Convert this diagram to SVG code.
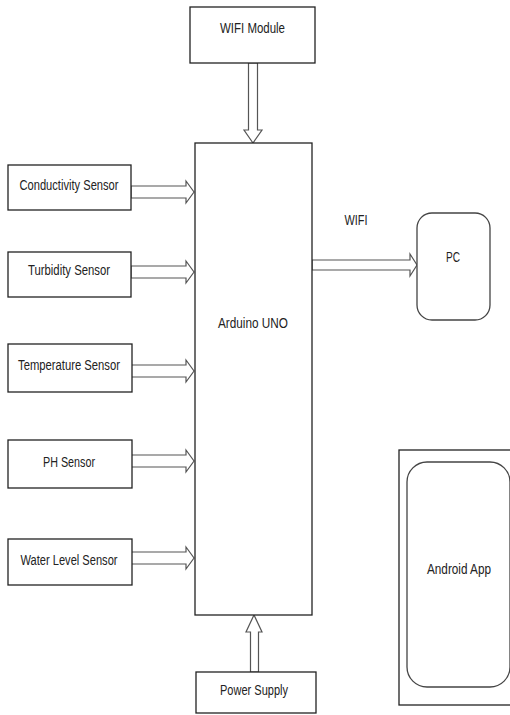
<svg xmlns="http://www.w3.org/2000/svg" width="510" height="715" viewBox="0 0 510 715">
<style>
.box{fill:#fff;stroke:#222;stroke-width:1.3}
.arrow{fill:#fff;stroke:#555;stroke-width:1.2;stroke-linejoin:miter}
.lbl{font-family:"Liberation Sans",Arial,sans-serif;font-size:14px;fill:#222;text-anchor:middle;dominant-baseline:central}
</style>
<rect width="510" height="715" fill="#fff"/>
<g id="connectors">
<polygon class="arrow" points="248.5,63 257.5,63 257.5,130 262,130 253,143 244,130 248.5,130"/>
<polygon class="arrow" points="131,186 186,186 186,181 194,192 186,203 186,198 131,198"/>
<polygon class="arrow" points="131,266 186,266 186,261 194,272 186,283 186,278 131,278"/>
<polygon class="arrow" points="131,365 186,365 186,360 194,371 186,382 186,377 131,377"/>
<polygon class="arrow" points="131,455 186,455 186,450 194,461 186,472 186,467 131,467"/>
<polygon class="arrow" points="131,552 186,552 186,547 194,558 186,569 186,564 131,564"/>
<polygon class="arrow" points="312,260 410,260 410,254 417,265 410,276 410,270 312,270"/>
<polygon class="arrow" points="250.5,672 258.5,672 258.5,632 262,632 254,615 246,632 250.5,632"/>
</g>
<g id="wifi-module">
<rect class="box" x="190" y="7" width="125" height="56"/>
<text class="lbl" x="252.5" y="28" textLength="65" lengthAdjust="spacingAndGlyphs">WIFI Module</text>
</g>
<g id="arduino">
<rect class="box" x="195" y="143" width="117" height="472"/>
<text class="lbl" x="253" y="323" textLength="70" lengthAdjust="spacingAndGlyphs">Arduino UNO</text>
</g>
<g id="conductivity">
<rect class="box" x="8" y="165" width="123" height="45"/>
<text class="lbl" x="69" y="185" textLength="99" lengthAdjust="spacingAndGlyphs">Conductivity Sensor</text>
</g>
<g id="turbidity">
<rect class="box" x="8" y="252" width="123" height="45"/>
<text class="lbl" x="69" y="270" textLength="82" lengthAdjust="spacingAndGlyphs">Turbidity Sensor</text>
</g>
<g id="temperature">
<rect class="box" x="8" y="344" width="124" height="48"/>
<text class="lbl" x="69" y="365" textLength="102" lengthAdjust="spacingAndGlyphs">Temperature Sensor</text>
</g>
<g id="ph">
<rect class="box" x="8" y="440" width="124" height="48"/>
<text class="lbl" x="69" y="462" textLength="52" lengthAdjust="spacingAndGlyphs">PH Sensor</text>
</g>
<g id="water-level">
<rect class="box" x="8" y="539" width="124" height="46"/>
<text class="lbl" x="69" y="560" textLength="97" lengthAdjust="spacingAndGlyphs">Water Level Sensor</text>
</g>
<g id="wifi-label">
<text class="lbl" x="356" y="220" textLength="23" lengthAdjust="spacingAndGlyphs">WIFI</text>
</g>
<g id="pc">
<rect class="box" x="417" y="213" width="73" height="107" rx="15" ry="15" style="stroke:#444"/>
<text class="lbl" x="453" y="257" textLength="14" lengthAdjust="spacingAndGlyphs">PC</text>
</g>
<g id="android">
<rect class="box" x="399" y="450" width="116" height="255"/>
<rect class="box" x="407" y="462" width="103" height="225" rx="20" ry="20" style="stroke:#444"/>
<text class="lbl" x="459" y="569" textLength="64" lengthAdjust="spacingAndGlyphs">Android App</text>
</g>
<g id="power-supply">
<rect class="box" x="196" y="672" width="120" height="41"/>
<text class="lbl" x="254" y="690" textLength="68" lengthAdjust="spacingAndGlyphs">Power Supply</text>
</g>
</svg>
